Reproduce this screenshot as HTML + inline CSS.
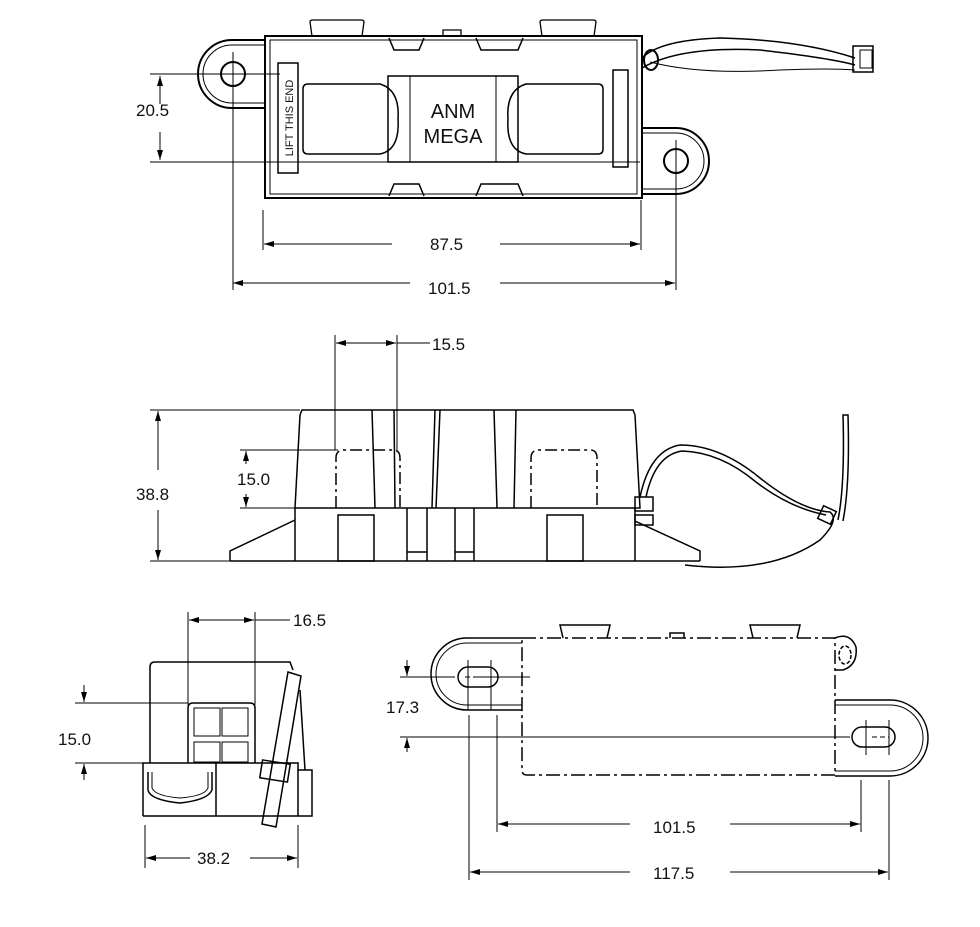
<!DOCTYPE html>
<html><head><style>
html,body{margin:0;padding:0;background:#fff}
svg{display:block}
text{font-family:"Liberation Sans",sans-serif;fill:#111}
</style></head><body>
<svg width="980" height="927" viewBox="0 0 980 927" xmlns="http://www.w3.org/2000/svg">
<defs>
<marker id="a" markerWidth="10" markerHeight="6" refX="10" refY="3" orient="auto-start-reverse" markerUnits="userSpaceOnUse"><path d="M0,0 L10,3 L0,6z" fill="#000"/></marker>
</defs>
<g stroke="#000" fill="none" stroke-width="1">
<!-- TOP VIEW -->
<g stroke-width="2">
<path d="M265,40 L232,40 A34,34 0 0 0 232,108 L265,108"/>
<path d="M265,45 L232,45 A29,29 0 0 0 232,103 L265,103" stroke-width="1"/>
<circle cx="233" cy="74" r="12"/>
<path d="M642,128 L676,128 A33,33 0 0 1 676,194 L642,194"/>
<path d="M642,133 L676,133 A28,28 0 0 1 676,189 L642,189" stroke-width="1"/>
<circle cx="676" cy="161" r="12"/>
<rect x="265" y="36" width="377" height="162"/>
<rect x="270" y="40" width="367" height="154" stroke-width="1"/>
<path d="M312,36 L310,22 Q310,20 313,20 L361,20 Q364,20 364,22 L362,36" stroke-width="1.3"/>
<path d="M542,36 L540,22 Q540,20 543,20 L593,20 Q596,20 596,22 L594,36" stroke-width="1.3"/>
<path d="M443,36 L443,30 L461,30 L461,36" stroke-width="1.3"/>
<path d="M389,38 L394,50 L419,50 L424,38 M476,38 L481,50 L518,50 L523,38" stroke-width="1.5"/>
<path d="M389,196 L394,184 L419,184 L424,196 M476,196 L481,184 L518,184 L523,196" stroke-width="1.5"/>
<rect x="278" y="63" width="20" height="110" stroke-width="1.5"/>
<rect x="613" y="70" width="15" height="97" stroke-width="1.5"/>
<rect x="388" y="76" width="130" height="86" stroke-width="1.5"/>
<path d="M410,76 L410,162 M496,76 L496,162" stroke-width="1"/>
<path d="M308,84 L330,84 L380,84 Q400,90 398,119 Q400,150 380,154 L308,154 Q303,154 303,149 L303,89 Q303,84 308,84z" stroke-width="1.5"/>
<path d="M598,84 L576,84 L526,84 Q506,90 508,119 Q506,150 526,154 L598,154 Q603,154 603,149 L603,89 Q603,84 598,84z" stroke-width="1.5"/>
<path d="M642,58 Q660,40 720,38 Q800,40 855,58" stroke-width="1.5"/>
<path d="M642,68 Q680,46 760,50 Q830,58 855,65" stroke-width="1.5"/>
<path d="M650,62 Q700,75 780,70 Q830,68 855,70" stroke-width="1"/>
<ellipse cx="651" cy="60" rx="7" ry="10"/>
<rect x="853" y="46" width="20" height="26" stroke-width="1.5"/>
<rect x="860" y="50" width="12" height="18" stroke-width="1"/>
</g>
<path d="M150,74 L280,74 M150,162 L640,162 M233,55 L233,290 M676,140 L676,290 M263,210 L263,250 M641,200 L641,250 M210,74 L255,74 M233,52 L233,96"/>
<path d="M160,104 L160,76" marker-end="url(#a)"/>
<path d="M160,132 L160,160" marker-end="url(#a)"/>
<path d="M392,244 L264,244" marker-end="url(#a)"/>
<path d="M500,244 L640,244" marker-end="url(#a)"/>
<path d="M410,283 L233,283" marker-end="url(#a)"/>
<path d="M500,283 L675,283" marker-end="url(#a)"/>

<!-- MIDDLE VIEW -->
<g stroke-width="1.5">
<path d="M300,415 L302,410 L633,410 L635,415 L640,508 L295,508z"/>
<path d="M295,508 L295,561 M635,508 L635,561 M230,561 L700,561 M230,561 L230,551 L295,520 M635,521 L700,551 L700,561"/>
<path d="M372,410 L375,508 M394,410 L395,508 M435,410 L432,508 M440,410 L436,508 M494,410 L497,508 M516,410 L514,508"/>
<rect x="338" y="515" width="36" height="46"/>
<rect x="547" y="515" width="36" height="46"/>
<path d="M407,508 L407,561 M427,508 L427,561 M407,552 L427,552"/>
<path d="M455,508 L455,561 M474,508 L474,561 M455,552 L474,552"/>
<path d="M336,508 L336,458 Q336,450 344,450 L393,450 Q400,450 400,458 L400,508" stroke-dasharray="12,4,3,4"/>
<path d="M531,508 L531,458 Q531,450 539,450 L590,450 Q597,450 597,458 L597,508" stroke-dasharray="12,4,3,4"/>
<rect x="635" y="497" width="18" height="14"/>
<rect x="635" y="515" width="18" height="10"/>
<path d="M640,497 Q650,450 680,445 Q720,445 760,478 Q800,510 830,512 Q840,520 820,540 Q770,575 685,565"/>
<path d="M646,497 Q655,455 682,451 Q720,452 756,482 Q790,508 826,515"/>
<path d="M838,520 Q845,485 843,415 L848,415 Q850,485 843,521"/>
<rect x="820" y="508" width="14" height="14" transform="rotate(25 827 515)"/>
</g>
<path d="M335,335 L335,450 M397,335 L397,450 M300,410 L150,410 M300,561 L150,561 M338,450 L240,450 M295,508 L240,508"/>
<path d="M397,343 L430,343"/>
<path d="M366,343 L336,343" marker-end="url(#a)"/>
<path d="M366,343 L396,343" marker-end="url(#a)"/>
<path d="M158,470 L158,411" marker-end="url(#a)"/>
<path d="M158,510 L158,560" marker-end="url(#a)"/>
<path d="M246,464 L246,451" marker-end="url(#a)"/>
<path d="M246,494 L246,507" marker-end="url(#a)"/>

<!-- BOTTOM LEFT VIEW -->
<g stroke-width="1.5">
<path d="M143,816 L143,763 L150,763 L150,667 Q150,662 155,662 L290,662 L293,670 M143,816 L312,816 L312,770 L298,770 L298,763 L143,763"/>
<path d="M298,770 L298,816 M216,763 L216,816"/>
<path d="M148,772 L148,790 Q150,800 180,803 Q208,800 212,790 L212,772"/>
<path d="M152,772 L152,788 Q155,796 180,798 Q205,796 208,788 L208,772" stroke-width="1"/>
<path d="M188,763 L188,708 Q188,703 193,703 L250,703 Q255,703 255,708 L255,763"/>
<rect x="194" y="708" width="26" height="28" stroke-width="1"/><rect x="222" y="708" width="26" height="28" stroke-width="1"/>
<rect x="194" y="742" width="26" height="20" stroke-width="1"/><rect x="222" y="742" width="26" height="20" stroke-width="1"/>
<path d="M288,672 L301,676 L276,827 L262,824z"/>
<rect x="261" y="762" width="28" height="18" transform="rotate(9 275 771)"/>
<path d="M300,690 L305,770"/>
</g>
<path d="M188,612 L188,705 M255,612 L255,705 M75,703 L188,703 M75,763 L145,763 M145,825 L145,868 M298,825 L298,868"/>
<path d="M255,620 L290,620"/>
<path d="M220,620 L189,620" marker-end="url(#a)"/>
<path d="M220,620 L254,620" marker-end="url(#a)"/>
<path d="M84,685 L84,702" marker-end="url(#a)"/>
<path d="M84,780 L84,764" marker-end="url(#a)"/>
<path d="M190,858 L146,858" marker-end="url(#a)"/>
<path d="M250,858 L297,858" marker-end="url(#a)"/>

<!-- BOTTOM RIGHT VIEW -->
<g stroke-width="1.5">
<path d="M522,638 L467,638 A36,36 0 0 0 467,710 L522,710"/>
<path d="M522,643 L467,643 A31,31 0 0 0 467,705 L522,705" stroke-width="1"/>
<rect x="458" y="667" width="40" height="20" rx="10"/>
<path d="M835,700 L890,700 A38,38 0 0 1 890,776 L835,776"/>
<path d="M835,705 L890,705 A33,33 0 0 1 890,771 L835,771" stroke-width="1"/>
<rect x="852" y="727" width="43" height="20" rx="10"/>
<path d="M522,638 L835,638 L835,775 L527,775 Q522,775 522,770z" stroke-dasharray="14,4,3,4"/>
<path d="M835,638 Q850,632 856,647 Q858,665 843,670 L835,670" stroke-width="1.5"/>
<ellipse cx="845" cy="655" rx="6" ry="9" stroke-dasharray="4,2"/>
<path d="M563,638 L560,625 L610,625 L607,638 M670,638 L670,633 L684,633 L684,638 M753,638 L750,625 L800,625 L797,638"/>
</g>
<path d="M465,677 L492,677 M872,737 L889,737" stroke-dasharray="5,3"/>
<path d="M468,660 L468,710 M491,660 L491,710 M478,677 L530,677 M497,715 L497,832 M469,715 L469,880 M861,780 L861,832 M889,780 L889,880 M866,720 L866,755 M889,720 L889,755 M400,677 L455,677 M400,737 L850,737"/>
<path d="M407,660 L407,676" marker-end="url(#a)"/>
<path d="M407,752 L407,738" marker-end="url(#a)"/>
<path d="M630,824 L498,824" marker-end="url(#a)"/>
<path d="M730,824 L860,824" marker-end="url(#a)"/>
<path d="M630,872 L470,872" marker-end="url(#a)"/>
<path d="M730,872 L888,872" marker-end="url(#a)"/>
</g>
<g font-size="17">
<text x="136" y="116">20.5</text>
<text x="430" y="250">87.5</text>
<text x="428" y="294">101.5</text>
<text x="432" y="350">15.5</text>
<text x="136" y="500">38.8</text>
<text x="237" y="485">15.0</text>
<text x="293" y="626">16.5</text>
<text x="58" y="745">15.0</text>
<text x="386" y="713">17.3</text>
<text x="197" y="864">38.2</text>
<text x="653" y="833">101.5</text>
<text x="653" y="879">117.5</text>
</g>
<text x="453" y="118" font-size="20" text-anchor="middle">ANM</text>
<text x="453" y="143" font-size="20" text-anchor="middle">MEGA</text>
<text transform="translate(293,118) rotate(-90)" font-size="11" text-anchor="middle">LIFT THIS END</text>
</svg>
</body></html>
